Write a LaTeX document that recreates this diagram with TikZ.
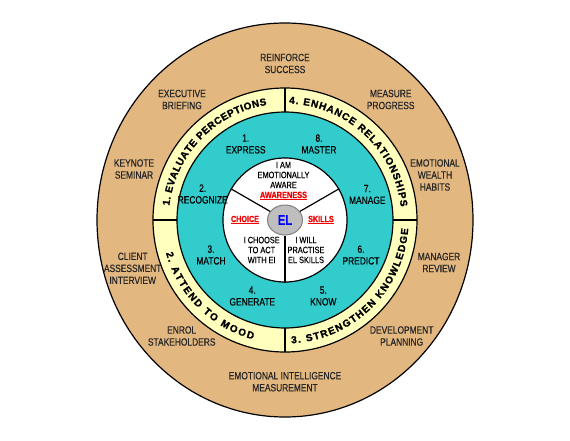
\documentclass[tikz,border=0pt]{standalone}
\usepackage{fontspec}
\setmainfont{Liberation Sans}[FakeStretch=0.8, FakeBold=0.4]
\newfontfamily\ringfont{Liberation Sans}[FakeBold=1.6]
\usepackage{xcolor}
\usepackage{tikz}
\usetikzlibrary{decorations.text, shapes.geometric}
\definecolor{ringtan}{RGB}{227, 183, 128}
\definecolor{ringyellow}{RGB}{255, 255, 190}
\definecolor{ringteal}{RGB}{51, 204, 204}
\definecolor{elgrey}{RGB}{190, 190, 190}
\definecolor{keyred}{RGB}{240, 0, 0}
\tikzset{
  outlbl/.style={align=center, text=black!85, font=\fontsize{10.5}{12}\selectfont},
  steplbl/.style={align=center, font=\fontsize{10.5}{11.7}\selectfont},
  corelbl/.style={align=center, font=\fontsize{9.2}{10}\selectfont},
  keylbl/.style={text=keyred, font=\fontsize{9}{10}\selectfont\bfseries},
  ringtext/.style={decorate, decoration={text along path, text align={fit to path},
    text={|\ringfont\bfseries\fontsize{10}{10}\selectfont|#1}}},
}

\begin{document}
\begin{tikzpicture}[x=1pt, y=1pt]
\useasboundingbox (-285,-220) rectangle (285,220);
\draw[line width=1.2, fill=ringtan] (0,0) ellipse[x radius=188, y radius=197];
\draw[line width=1.2, fill=ringyellow] (0,0) circle[radius=132];
\draw[line width=1.2, fill=ringteal] (0,0) circle[radius=108];
\node[circle, draw, line width=1.2, fill=white, minimum size=124, inner sep=0] (core) at (0,0) {};
\node[ellipse, draw=gray, line width=1, fill=elgrey, minimum width=35, minimum height=30, inner sep=0] (el) at (0,0)
  {\textcolor{blue}{\fontsize{14}{14}\selectfont\bfseries EL}};
\foreach \a in {30,150,270}
  \draw[line width=1.2] (el.\a) -- (core.\a);
\foreach \a in {0,90,180,270}
  \draw[line width=1.2] (\a:108) -- (\a:132);
\path[ringtext={1. EVALUATE PERCEPTIONS}] (173:116.5) arc[start angle=173, end angle=99, radius=116.5];
\path[ringtext={4. ENHANCE RELATIONSHIPS}] (88:116.5) arc[start angle=88, end angle=6.5, radius=116.5];
\path[ringtext={3. STRENGTHEN KNOWLEDGE}] (-87:123.5) arc[start angle=-87, end angle=-4, radius=123.5];
\path[ringtext={2. ATTEND TO MOOD}] (195.5:123.5) arc[start angle=195.5, end angle=255, radius=123.5];
\foreach \x/\y/\n/\t in {
  0/156.5/reinforce/{REINFORCE\\SUCCESS},
  -103/120.5/briefing/{EXECUTIVE\\BRIEFING},
  105.7/120.5/measure/{MEASURE\\PROGRESS},
  -151/51/keynote/{KEYNOTE\\SEMINAR},
  150/45/wealth/{EMOTIONAL\\WEALTH\\HABITS},
  -152.3/-48.3/client/{CLIENT\\ASSESSMENT\\INTERVIEW},
  154/-42.5/review/{MANAGER\\REVIEW},
  -103.3/-116/enrol/{ENROL\\STAKEHOLDERS},
  116.7/-116/planning/{DEVELOPMENT\\PLANNING},
  0/-161.7/measurement/{EMOTIONAL INTELLIGENCE\\MEASUREMENT}}
  \node[outlbl] (\n) at (\x,\y) {\t};
\foreach \x/\y/\n/\t in {
  -39.3/76/express/{1.\\EXPRESS},
  34/76/master/{8.\\MASTER},
  -82.3/26/recognize/{2.\\RECOGNIZE},
  82.3/25.5/manage/{7.\\MANAGE},
  -74/-35/match/{3.\\MATCH},
  76/-35/predict/{6.\\PREDICT},
  -32.7/-76/generate/{4.\\GENERATE},
  38.3/-76/know/{5.\\KNOW}}
  \node[steplbl] (\n) at (\x,\y) {\t};
\node[corelbl] (aware) at (-1.5,39) {I AM\\EMOTIONALLY\\AWARE\\{\color{keyred}\bfseries\underline{AWARENESS}}};
\node[keylbl] (choice) at (-40,0) {\underline{CHOICE}};
\node[keylbl] (skills) at (36,0) {\underline{SKILLS}};
\node[corelbl] (choose) at (-23.3,-30) {I CHOOSE\\TO ACT\\WITH EI};
\node[corelbl] (practise) at (21,-30) {I WILL\\PRACTISE\\EL SKILLS};
\end{tikzpicture}
\end{document}
